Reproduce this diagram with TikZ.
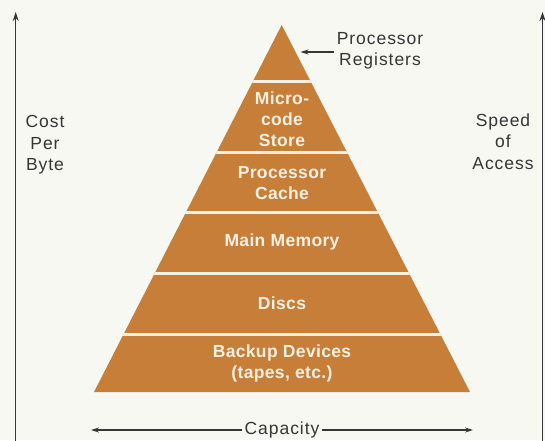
\documentclass[tikz,border=0pt]{standalone}
\usepackage{fontspec}
\setmainfont{Liberation Sans}
\usetikzlibrary{arrows.meta}
\definecolor{bg}{HTML}{F6F8F1}
\definecolor{pyr}{HTML}{C67E38}
\definecolor{sep}{HTML}{FAF0E0}
\definecolor{ink}{HTML}{363636}
\definecolor{bandtext}{HTML}{FBF0E2}
\begin{document}
\begin{tikzpicture}[x=1pt,y=-1pt,
  lbl/.style={text=ink, font=\fontsize{17.5}{21.5}\selectfont\addfontfeature{LetterSpace=5.5}, align=center, inner sep=0pt},
  bandlbl/.style={text=bandtext, font=\fontsize{17.5}{21}\selectfont\bfseries\addfontfeature{LetterSpace=2}, align=center, inner sep=0pt},
  axis/.style={draw=ink, line width=1.5pt, -{Stealth[length=9pt,width=6pt]}},
  thinarrow/.style={draw=ink, line width=1.1pt, -{Stealth[length=8pt,width=5pt]}}]
\fill[bg] (0,0) rectangle (545,440);
\useasboundingbox (0,0) rectangle (545,440);
% pyramid
\fill[pyr] (281.7,25) -- (470,392) -- (94,392) -- cycle;
\begin{scope}
  \clip (281.7,25) -- (470,392) -- (94,392) -- cycle;
  \foreach \yy in {81.5,152.5,212.5,273,334}
    \draw[sep, line width=3pt] (60,\yy) -- (500,\yy);
\end{scope}
% band labels
\node[bandlbl] (micro) at (282,119) {Micro-\\code\\Store};
\node[bandlbl] (cache) at (282,183) {Processor\\Cache};
\node[bandlbl] (main) at (282,242) {Main Memory};
\node[bandlbl] (discs) at (282,303) {Discs};
\node[bandlbl] (backup) at (282,363) {Backup Devices\\(tapes, etc.)};
% registers label
\node[lbl] (reg) at (380,51) {Processor\\Registers};
\coordinate (regtip) at (300.5,52);
\draw[thinarrow, shorten <=3pt] (reg.west |- regtip) -- (regtip);
% axes
\coordinate (lbot) at (15.7,441);
\coordinate (ltop) at (15.7,12);
\coordinate (rbot) at (542.5,441);
\coordinate (rtop) at (542.5,12);
\draw[axis] (lbot) -- (ltop);
\draw[axis] (rbot) -- (rtop);
\node[lbl] (cost) at (45,145) {Cost\\Per\\Byte};
\node[lbl] (speed) at (503,141.5) {Speed\\of\\Access};
% capacity
\node[lbl, inner xsep=2.5pt] (cap) at (282,430) {Capacity};
\coordinate (capl) at (91,430);
\coordinate (capr) at (473,430);
\draw[thinarrow] (cap.west) -- (capl);
\draw[thinarrow] (cap.east) -- (capr);
\end{tikzpicture}
\end{document}
